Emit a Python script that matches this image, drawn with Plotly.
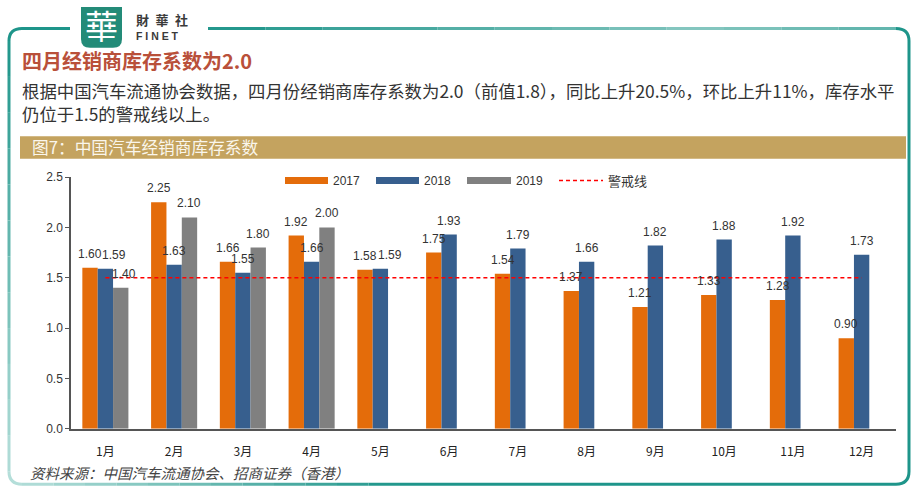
import plotly.graph_objects as go

# ---------------- data ----------------
months = ["1月", "2月", "3月", "4月", "5月", "6月", "7月", "8月", "9月", "10月", "11月", "12月"]
v2017 = [1.60, 2.25, 1.66, 1.92, 1.58, 1.75, 1.54, 1.37, 1.21, 1.33, 1.28, 0.90]
v2018 = [1.59, 1.63, 1.55, 1.66, 1.59, 1.93, 1.79, 1.66, 1.82, 1.88, 1.92, 1.73]
v2019 = [1.40, 2.10, 1.80, 2.00, None, None, None, None, None, None, None, None]
warning_level = 1.5
series_names = ["2017", "2018", "2019"]
warning_name = "警戒线"

title_text = "四月经销商库存系数为2.0"
para_line1 = "根据中国汽车流通协会数据，四月份经销商库存系数为2.0（前值1.8），同比上升20.5%，环比上升11%，库存水平"
para_line2 = "仍位于1.5的警戒线以上。"
banner_text = "图7：中国汽车经销商库存系数"
source_text = "资料来源：中国汽车流通协会、招商证券（香港）"

# ---------------- styling ----------------
W, H = 920, 500
PLOT_L, PLOT_R, PLOT_T, PLOT_B = 71, 896, 175, 434
BARGAP = 0.33
C_ORANGE = "#E46C0A"
C_BLUE = "#375F8E"
C_GRAY = "#808080"
C_RED = "#FF0000"
C_TEAL = "#1E958A"
NUM_FONT = "Liberation Sans, Arial, sans-serif"
CJK_FONT = "Noto Sans CJK SC, sans-serif"
# small horizontal nudges (px) for data labels that would collide, as in the reference
label_nudge = {(1, 0): 9, (2, 0): 3, (1, 4): 10}


def px(x):
    return x / W


def py(y):
    return 1 - y / H


fig = go.Figure()
for name, vals, col in zip(series_names, [v2017, v2018, v2019], [C_ORANGE, C_BLUE, C_GRAY]):
    fig.add_trace(go.Bar(
        x=months, y=vals, name=name, marker=dict(color=col, line=dict(width=0)),
        showlegend=False, hoverinfo="skip",
    ))

fig.add_trace(go.Scatter(
    x=months, y=[warning_level] * len(months), mode="lines", name=warning_name,
    line=dict(color=C_RED, width=1.5, dash="4px,3px"), showlegend=False, hoverinfo="skip",
))

shapes = []
annotations = []

# ---- data labels (drawn on top of all bars) ----
cat_w = (PLOT_R - PLOT_L) / len(months)
bar_w = cat_w * (1 - BARGAP) / 3
for si, vals in enumerate([v2017, v2018, v2019]):
    for mi, v in enumerate(vals):
        if v is None:
            continue
        annotations.append(dict(
            x=months[mi], y=v, xref="x", yref="y", text=f"{v:.2f}", showarrow=False,
            xanchor="center", yanchor="middle", xshift=(si - 1) * bar_w + label_nudge.get((si, mi), 0),
            yshift=14, font=dict(family=NUM_FONT, size=12, color="#333333")))


def seg(x0, y0, x1, y1, color, width=3, dash=None):
    ln = dict(color=color, width=width)
    if dash:
        ln["dash"] = dash
    shapes.append(dict(type="line", xref="paper", yref="paper", x0=px(x0), y0=py(y0), x1=px(x1), y1=py(y1),
                       line=ln))


def lerp_col(c0, c1, t):
    a = [int(c0[i:i + 2], 16) for i in (1, 3, 5)]
    b = [int(c1[i:i + 2], 16) for i in (1, 3, 5)]
    return "#" + "".join(f"{int(round(a[k] + (b[k] - a[k]) * t)):02x}" for k in range(3))


def path_shape(points_cmds, color, width=3, fill=None):
    s = ""
    for cmd in points_cmds:
        if cmd[0] in ("M", "L"):
            s += f"{cmd[0]} {px(cmd[1]):.5f},{py(cmd[2]):.5f} "
        elif cmd[0] == "Q":
            s += f"Q {px(cmd[1]):.5f},{py(cmd[2]):.5f} {px(cmd[3]):.5f},{py(cmd[4]):.5f} "
        elif cmd[0] == "Z":
            s += "Z"
    d = dict(type="path", xref="paper", yref="paper", path=s.strip(), line=dict(color=color, width=width))
    if fill:
        d["fillcolor"] = fill
    shapes.append(d)


# ---- teal rounded frame ----
LIGHT = "#B4DED9"
path_shape([("M", 70, 22), ("L", 22, 22), ("Q", 9, 22, 9, 35)], C_TEAL)
n = 12
for i in range(n):
    y0 = 35 + (478 - 35) * i / n
    y1 = 35 + (478 - 35) * (i + 1) / n
    seg(9, y0, 9, y1, lerp_col(C_TEAL, LIGHT, (i + 0.5) / n))
path_shape([("M", 9, 478), ("Q", 9, 491, 22, 491)], LIGHT)
for i in range(n):
    x0 = 22 + (400 - 22) * i / n
    x1 = 22 + (400 - 22) * (i + 1) / n
    seg(x0, 491, x1, 491, lerp_col(LIGHT, C_TEAL, (i + 0.5) / n))
seg(400, 491, 896, 491, C_TEAL)
path_shape([("M", 896, 491), ("Q", 909, 491, 909, 478), ("L", 909, 35), ("Q", 909, 22, 896, 22)], C_TEAL)
for i in range(n):
    x0 = 208 + (896 - 208) * i / n
    x1 = 208 + (896 - 208) * (i + 1) / n
    t = (i + 0.5) / n
    k = 1 - abs(t - 0.72) / 0.72
    seg(x0, 22, x1, 22, lerp_col(C_TEAL, "#9FD3CD", max(0, k) * 0.8))

# ---- logo ----
path_shape([("M", 81, 0), ("L", 122, 0), ("L", 122, 33), ("Q", 122, 42, 113, 42), ("L", 90, 42),
            ("Q", 81, 42, 81, 33), ("Z",)], "#238B78", width=0, fill="#238B78")
annotations.append(dict(x=px(101.5), y=py(19), text="華", showarrow=False, xref="paper", yref="paper",
                        xanchor="center", yanchor="middle",
                        font=dict(family="Noto Sans CJK TC, sans-serif", size=33, color="white")))
annotations.append(dict(x=px(134), y=py(13), text="財\u2002華\u2002社", showarrow=False, xref="paper", yref="paper",
                        xanchor="left", yanchor="middle",
                        font=dict(family="Noto Sans CJK TC, sans-serif", size=13, color="#3a3a3a", weight="bold")))
annotations.append(dict(x=px(134), y=py(30), text="F I N E T", showarrow=False, xref="paper", yref="paper",
                        xanchor="left", yanchor="middle",
                        font=dict(family="Liberation Sans, Arial, sans-serif", size=10.5, color="#3a3a3a",
                                  weight="bold")))

# ---- header texts ----
annotations.append(dict(x=px(20), y=py(55), text=title_text, showarrow=False, xref="paper", yref="paper",
                        xanchor="left", yanchor="middle",
                        font=dict(family=CJK_FONT, size=20, color="#B9503A", weight="bold")))
for txt, yy in ((para_line1, 86), (para_line2, 110)):
    annotations.append(dict(x=px(20), y=py(yy), text=txt, showarrow=False, xref="paper", yref="paper",
                            xanchor="left", yanchor="middle",
                            font=dict(family=CJK_FONT, size=17.4, color="#333333")))

# ---- banner ----
shapes.append(dict(type="rect", xref="paper", yref="paper", x0=px(20), x1=px(906), y0=py(156), y1=py(133),
                   fillcolor="#C4A35F", line=dict(width=0), layer="below"))
annotations.append(dict(x=px(30), y=py(144), text=banner_text, showarrow=False, xref="paper", yref="paper",
                        xanchor="left", yanchor="middle",
                        font=dict(family=CJK_FONT, size=16.7, color="#FAF6EC")))

# ---- source ----
annotations.append(dict(x=px(28), y=py(479), text="<i>" + source_text + "</i>", showarrow=False, xref="paper",
                        yref="paper", xanchor="left", yanchor="middle",
                        font=dict(family=CJK_FONT, size=14.5, color="#444444")))

# ---- custom legend ----
leg_y = 178.5
for (x0, x1, col, label) in ((285, 328, C_ORANGE, series_names[0]), (376, 419, C_BLUE, series_names[1]),
                             (467, 511, C_GRAY, series_names[2])):
    shapes.append(dict(type="rect", xref="paper", yref="paper", x0=px(x0), x1=px(x1), y0=py(leg_y + 3.5),
                       y1=py(leg_y - 3.5), fillcolor=col, line=dict(width=0)))
    annotations.append(dict(x=px(x1 + 3), y=py(leg_y), text=label, showarrow=False, xref="paper", yref="paper",
                            xanchor="left", yanchor="middle",
                            font=dict(family=NUM_FONT, size=12, color="#333333")))
seg(559, leg_y, 603, leg_y, C_RED, width=1.5, dash="4px,3px")
annotations.append(dict(x=px(606), y=py(leg_y), text=warning_name, showarrow=False, xref="paper", yref="paper",
                        xanchor="left", yanchor="middle",
                        font=dict(family=CJK_FONT, size=13, color="#333333")))

fig.update_layout(
    width=W, height=H, autosize=False,
    margin=dict(l=0, r=0, t=0, b=0),
    paper_bgcolor="white", plot_bgcolor="white",
    barmode="group", bargap=BARGAP, bargroupgap=0,
    shapes=shapes, annotations=annotations,
    showlegend=False,
    xaxis=dict(domain=[px(PLOT_L), px(PLOT_R)], type="category", showline=True, linecolor="#555555",
               linewidth=1.5, ticks="", showgrid=False, ticklabelstandoff=11,
               tickfont=dict(family=CJK_FONT, size=12, color="#222222")),
    yaxis=dict(domain=[py(PLOT_B), py(PLOT_T)], range=[0, 2.5], dtick=0.5, tickformat=".1f", showline=True,
               linecolor="#555555", linewidth=1.5, ticks="outside", ticklen=4, tickcolor="#555555",
               showgrid=False, zeroline=False,
               tickfont=dict(family=NUM_FONT, size=12, color="#333333")),
)

fig.write_html("out.html", config={"displayModeBar": False},
               post_script="document.body.style.margin='0';document.body.style.overflow='hidden';")
